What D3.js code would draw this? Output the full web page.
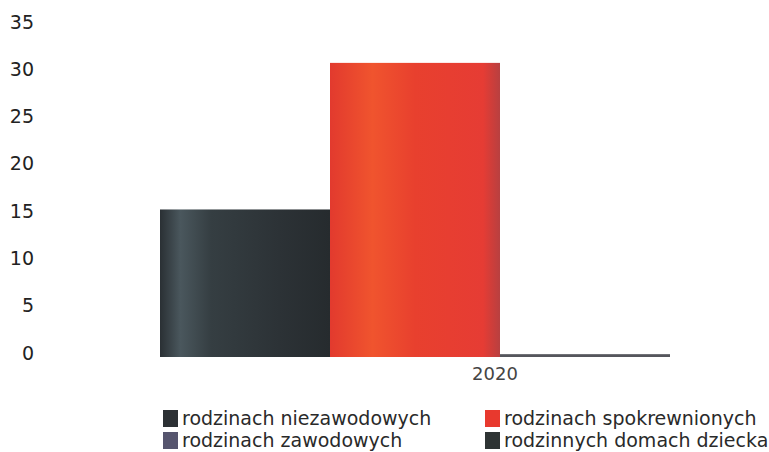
<!DOCTYPE html>
<html><head><meta charset="utf-8">
<script src="https://cdn.jsdelivr.net/npm/d3@7"></script>
<style>body{margin:0;background:#fff}svg{display:block}</style>
</head><body>
<svg id="c" width="769" height="452"></svg>
<script>
const categories = ["2020"];
const seriesNames = ["rodzinach niezawodowych", "rodzinach spokrewnionych", "rodzinach zawodowych", "rodzinnych domach dziecka"];
const seriesValues = [15.6, 31.1, 0.3, 0];
const seriesColors = ["#2c3236", "#e8392e", "#55565c", "#2e3434"];
const legendColors = ["#2c3034", "#e8392e", "#56556e", "#2e3434"];
const yTicks = [0, 5, 10, 15, 20, 25, 30, 35];

const svg = d3.select("#c");
const y = d3.scaleLinear().domain([0, 35]).range([357, 26]);
const x0 = d3.scaleBand().domain(categories).range([160, 840]).padding(0);
const x1 = d3.scaleBand().domain(seriesNames).range([0, x0.bandwidth()]).padding(0);

const defs = svg.append("defs");
function grad(id, stops) {
  const g = defs.append("linearGradient").attr("id", id).attr("x1", "0").attr("x2", "1").attr("y1", "0").attr("y2", "0");
  stops.forEach(s => g.append("stop").attr("offset", s[0]).attr("stop-color", s[1]));
}
grad("g0", [[0, "#2a3034"], [0.12, "#4a575d"], [0.3, "#353e42"], [0.7, "#2c3236"], [1, "#262b2e"]]);
grad("g1", [[0, "#e23a2e"], [0.25, "#f0542e"], [0.5, "#e8402e"], [0.9, "#e63c34"], [1, "#b84040"]]);

const fills = ["url(#g0)", "url(#g1)", seriesColors[2], seriesColors[3]];

const g = svg.append("g");
categories.forEach(cat => {
  const gg = g.append("g").attr("transform", `translate(${x0(cat)},0)`);
  gg.selectAll("rect").data(seriesNames.map((n, i) => ({n, v: seriesValues[i], i})))
    .join("rect")
    .attr("x", d => x1(d.n))
    .attr("width", x1.bandwidth())
    .attr("y", d => y(d.v))
    .attr("height", d => y(0) - y(d.v))
    .attr("fill", d => fills[d.i]);
});

// y axis labels
const yAxis = d3.axisLeft(y).tickValues(yTicks).tickSize(0).tickPadding(0);
const ya = svg.append("g").attr("transform", "translate(34,-4)").call(yAxis);
ya.select(".domain").remove();
ya.selectAll("text").attr("font-family", "DejaVu Sans, sans-serif").attr("font-size", 19).attr("fill", "#222");

// x axis label
const xAxis = d3.axisBottom(x0).tickSize(0).tickPadding(0);
const xa = svg.append("g").attr("transform", "translate(-5,367)").call(xAxis);
xa.select(".domain").remove();
xa.selectAll("text").attr("font-family", "DejaVu Sans, sans-serif").attr("font-size", 18).attr("fill", "#444");

// legend
const legPos = [[163, 410], [485, 410], [163, 432], [485, 432]];
const leg = svg.append("g");
seriesNames.forEach((n, i) => {
  const [lx, ly] = legPos[i];
  leg.append("rect").attr("x", lx).attr("y", ly).attr("width", 15).attr("height", 17).attr("fill", legendColors[i]);
  leg.append("text").attr("x", lx + 19).attr("y", ly + 15).text(n)
    .attr("font-family", "DejaVu Sans, sans-serif").attr("font-size", 19).attr("fill", "#2a2a2a");
});
</script>
</body></html>
